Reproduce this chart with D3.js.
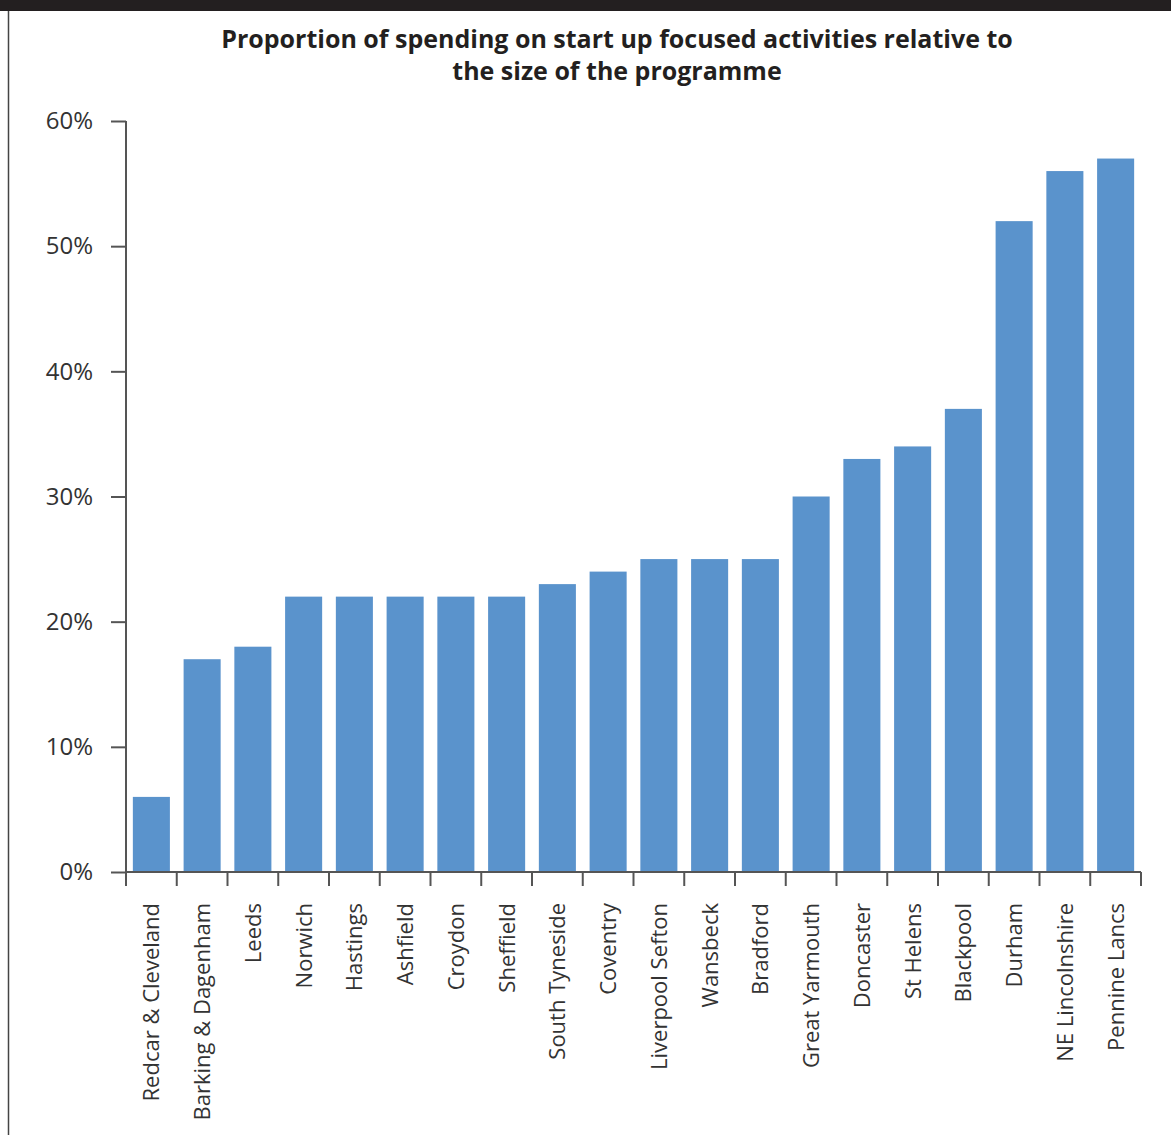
<!DOCTYPE html>
<html><head><meta charset="utf-8">
<script src="https://cdn.jsdelivr.net/npm/d3@7"></script>
<style>body{margin:0;background:#fff}svg{display:block}</style>
</head><body>
<script>
const categories = ["Redcar & Cleveland","Barking & Dagenham","Leeds","Norwich","Hastings","Ashfield","Croydon","Sheffield","South Tyneside","Coventry","Liverpool Sefton","Wansbeck","Bradford","Great Yarmouth","Doncaster","St Helens","Blackpool","Durham","NE Lincolnshire","Pennine Lancs"];
const values = [6,17,18,22,22,22,22,22,23,24,25,25,25,30,33,34,37,52,56,57];
const yTicks = [0,10,20,30,40,50,60];
const titleLines = ["Proportion of spending on start up focused activities relative to","the size of the programme"];

const W=1171,H=1135;
const svg=d3.select("body").append("svg").attr("width",W).attr("height",H);
const font="'Open Sans', 'Noto Sans', sans-serif";

// top banner
svg.append("rect").attr("x",0).attr("y",0).attr("width",W).attr("height",11).attr("fill","#231f20");
// left border
svg.append("line").attr("x1",8.5).attr("x2",8.5).attr("y1",11).attr("y2",H).attr("stroke","#444").attr("stroke-width",1.5);

// title
svg.append("text").attr("x",617).attr("y",48).attr("text-anchor","middle")
  .attr("font-family",font).attr("font-weight","bold").attr("font-size",25).attr("fill","#231f20")
  .selectAll("tspan").data(titleLines).join("tspan").attr("x",617).attr("dy",(d,i)=>i?32:0).text(d=>d);

const x=d3.scaleBand().domain(categories).range([126,1141]).paddingInner(0.27).paddingOuter(0.135);
const y=d3.scaleLinear().domain([0,60]).range([872,121]);

svg.append("g").selectAll("rect").data(values).join("rect")
  .attr("x",(d,i)=>x(categories[i])).attr("width",x.bandwidth())
  .attr("y",d=>y(d)).attr("height",d=>y(0)-y(d)).attr("fill","#5a93cc");

const axisColor="#555";
// y axis
const ya=svg.append("g").attr("transform","translate(126,0)")
  .call(d3.axisLeft(y).tickValues(yTicks).tickSize(15).tickPadding(18).tickFormat(d=>d+"%"));
ya.select(".domain").remove();
ya.selectAll("line").attr("stroke",axisColor).attr("stroke-width",2);
ya.selectAll("text").attr("font-family",font).attr("font-size",24).attr("fill","#333");
svg.append("line").attr("x1",126).attr("x2",126).attr("y1",y(60)).attr("y2",y(0)).attr("stroke",axisColor).attr("stroke-width",2);

// x axis
svg.append("line").attr("x1",126).attr("x2",1141).attr("y1",872).attr("y2",872).attr("stroke",axisColor).attr("stroke-width",2);
const bounds=categories.map(c=>x(c)-x.step()*x.paddingInner()/2).concat([1141]);
bounds[0]=126;
svg.append("g").selectAll("line").data(bounds).join("line")
  .attr("x1",d=>d).attr("x2",d=>d).attr("y1",872).attr("y2",886).attr("stroke",axisColor).attr("stroke-width",2);
svg.append("g").selectAll("text").data(categories).join("text")
  .attr("transform",d=>`translate(${x(d)+x.bandwidth()/2+8},903) rotate(-90)`)
  .attr("text-anchor","end").attr("font-family",font).attr("font-size",22).attr("fill","#333").text(d=>d);
</script>
</body></html>
